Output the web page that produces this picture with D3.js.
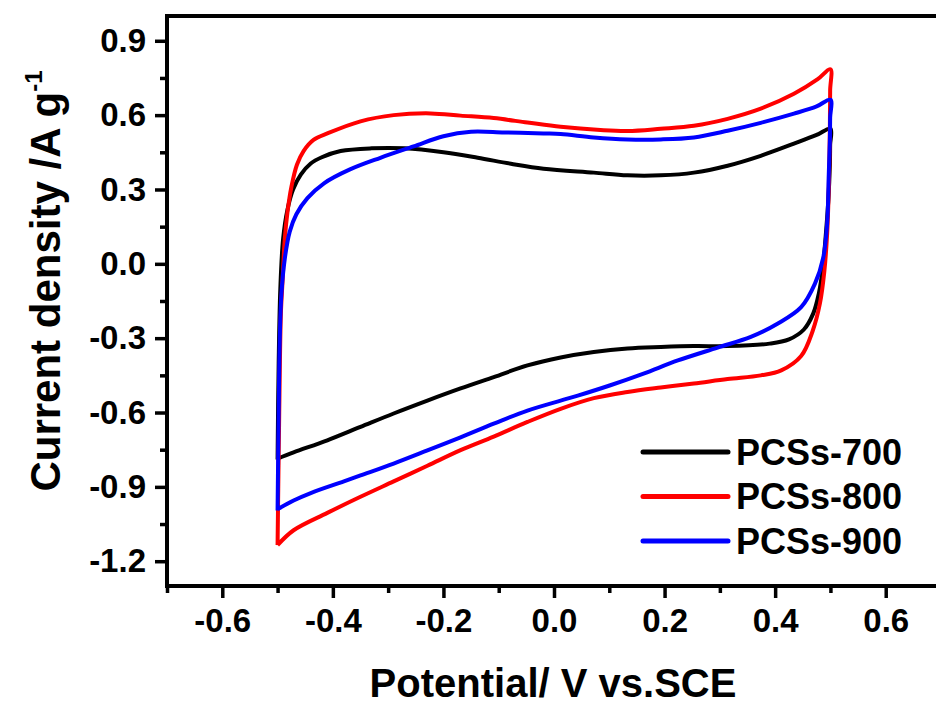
<!DOCTYPE html>
<html>
<head>
<meta charset="utf-8">
<script src="https://cdn.jsdelivr.net/npm/d3@7"></script>
<style>
  body { margin: 0; background: #fff; }
  text { font-family: "Liberation Sans", Arial, sans-serif; font-weight: bold; fill: #000; }
</style>
</head>
<body>
<div id="chart"></div>
<script>
// series names and colours
var seriesNames = ["PCSs-700", "PCSs-800", "PCSs-900"];
var seriesColors = ["#000000", "#ff0000", "#0000ff"];

// CV loops: [potential V, current density A/g]
// anodic sweep -0.5 -> 0.5 then cathodic sweep 0.5 -> -0.5
var pcs700 = [
  [-0.500, -0.79], [-0.498, -0.40], [-0.495, -0.10], [-0.490, 0.10], [-0.482, 0.22],
  [-0.472, 0.30], [-0.458, 0.36], [-0.440, 0.405], [-0.420, 0.43], [-0.386, 0.455],
  [-0.330, 0.466], [-0.270, 0.466], [-0.200, 0.450], [-0.138, 0.428], [-0.078, 0.404],
  [-0.019, 0.384], [0.072, 0.368], [0.133, 0.357], [0.193, 0.357], [0.253, 0.368],
  [0.314, 0.396], [0.374, 0.436], [0.434, 0.485], [0.475, 0.52], [0.500, 0.545],
  [0.4995, 0.48], [0.499, 0.40], [0.496, 0.25], [0.491, 0.10], [0.486, -0.02], [0.479, -0.12],
  [0.469, -0.20], [0.452, -0.265], [0.425, -0.305], [0.390, -0.322], [0.314, -0.332],
  [0.253, -0.332], [0.193, -0.336], [0.133, -0.342], [0.072, -0.356], [0.012, -0.378],
  [-0.048, -0.41], [-0.109, -0.457], [-0.169, -0.503], [-0.229, -0.552], [-0.290, -0.604],
  [-0.350, -0.658], [-0.410, -0.712], [-0.471, -0.761], [-0.500, -0.786]
];
var pcs800 = [
  [-0.500, -1.135], [-0.497, -0.60], [-0.494, -0.20], [-0.491, -0.07], [-0.487, 0.10],
  [-0.482, 0.21], [-0.475, 0.31], [-0.465, 0.40], [-0.453, 0.455], [-0.435, 0.50],
  [-0.409, 0.527], [-0.350, 0.575], [-0.290, 0.600], [-0.223, 0.607], [-0.169, 0.598],
  [-0.109, 0.588], [-0.048, 0.570], [0.012, 0.553], [0.084, 0.540], [0.133, 0.536],
  [0.193, 0.545], [0.253, 0.557], [0.314, 0.585], [0.374, 0.626], [0.434, 0.686],
  [0.477, 0.745], [0.500, 0.785],
  [0.4995, 0.70], [0.499, 0.55], [0.497, 0.30], [0.494, 0.12], [0.489, -0.03], [0.481, -0.16],
  [0.468, -0.27], [0.447, -0.372], [0.411, -0.430], [0.374, -0.450], [0.314, -0.465],
  [0.253, -0.483], [0.193, -0.499], [0.133, -0.517], [0.072, -0.542], [0.012, -0.585],
  [-0.048, -0.638], [-0.109, -0.697], [-0.169, -0.752], [-0.229, -0.815], [-0.290, -0.878],
  [-0.350, -0.94], [-0.410, -1.005], [-0.471, -1.075], [-0.500, -1.135]
];
var pcs900 = [
  [-0.500, -0.995], [-0.498, -0.60], [-0.496, -0.30], [-0.493, -0.12], [-0.487, 0.02],
  [-0.478, 0.13], [-0.466, 0.20], [-0.446, 0.265], [-0.416, 0.325], [-0.370, 0.38],
  [-0.314, 0.428], [-0.254, 0.474], [-0.200, 0.515], [-0.150, 0.533], [-0.090, 0.530],
  [-0.019, 0.526], [0.012, 0.524], [0.072, 0.510], [0.133, 0.502], [0.193, 0.502],
  [0.253, 0.510], [0.314, 0.537], [0.374, 0.569], [0.434, 0.606], [0.475, 0.635],
  [0.500, 0.662],
  [0.4995, 0.59], [0.499, 0.50], [0.497, 0.36], [0.494, 0.16], [0.487, 0.025], [0.472, -0.08],
  [0.447, -0.175], [0.405, -0.241], [0.356, -0.295], [0.296, -0.338], [0.224, -0.39],
  [0.162, -0.443], [0.102, -0.49], [0.043, -0.532], [-0.048, -0.592], [-0.109, -0.645],
  [-0.169, -0.700], [-0.229, -0.753], [-0.290, -0.806], [-0.350, -0.854], [-0.380, -0.878],
  [-0.440, -0.925], [-0.471, -0.955], [-0.500, -0.99]
];
var seriesData = [pcs700, pcs800, pcs900];

// tick values
var xMajor = [-0.6, -0.4, -0.2, 0.0, 0.2, 0.4, 0.6];
var xMinor = [-0.7, -0.5, -0.3, -0.1, 0.1, 0.3, 0.5, 0.7];
var yMajor = [0.9, 0.6, 0.3, 0.0, -0.3, -0.6, -0.9, -1.2];
var yMinor = [0.75, 0.45, 0.15, -0.15, -0.45, -0.75, -1.05];

var width = 936, height = 704;
var plotLeft = 167, plotRight = 941, plotTop = 16, plotBottom = 586;

var svg = d3.select("#chart").append("svg")
  .attr("width", width)
  .attr("height", height);

var x = d3.scaleLinear().domain([-0.7, 0.7]).range([plotLeft, plotRight]);
var y = d3.scaleLinear().domain([-1.3, 1.0]).range([plotBottom, plotTop]);

// curves first, frame drawn over them
var line = d3.line()
  .x(function(d) { return x(d[0]); })
  .y(function(d) { return y(d[1]); })
  .curve(d3.curveCatmullRom.alpha(0.5));

svg.append("g")
  .selectAll("path")
  .data(seriesData)
  .enter()
  .append("path")
  .attr("d", line)
  .attr("fill", "none")
  .attr("stroke", function(d, i) { return seriesColors[i]; })
  .attr("stroke-width", 4)
  .attr("stroke-linejoin", "round");

var fmt = function(d) { return d3.format(".1f")(d).replace("−", "-"); };

// bottom axis
var gx = svg.append("g").attr("transform", "translate(0," + plotBottom + ")")
  .call(d3.axisBottom(x).tickValues(xMajor).tickSize(12).tickPadding(11).tickFormat(fmt));
var gxMinor = svg.append("g").attr("transform", "translate(0," + plotBottom + ")")
  .call(d3.axisBottom(x).tickValues(xMinor).tickSize(7).tickFormat(""));

// left axis
var gy = svg.append("g").attr("transform", "translate(" + plotLeft + ",0)")
  .call(d3.axisLeft(y).tickValues(yMajor).tickSize(12).tickPadding(9).tickFormat(fmt));
var gyMinor = svg.append("g").attr("transform", "translate(" + plotLeft + ",0)")
  .call(d3.axisLeft(y).tickValues(yMinor).tickSize(7).tickFormat(""));

svg.selectAll(".tick line").attr("stroke-width", 3.5);
svg.selectAll(".domain").remove();
gxMinor.selectAll(".tick text").remove();
gyMinor.selectAll(".tick text").remove();
[gx, gy].forEach(function(g) {
  g.selectAll(".tick text")
    .style("font-size", "33px")
    .style("font-family", "'Liberation Sans', Arial, sans-serif")
    .style("font-weight", "bold");
});

// frame
svg.append("rect")
  .attr("x", plotLeft).attr("y", plotTop)
  .attr("width", plotRight - plotLeft).attr("height", plotBottom - plotTop)
  .attr("fill", "none")
  .attr("stroke", "#000")
  .attr("stroke-width", 4);

// axis titles
svg.append("text")
  .attr("x", 553)
  .attr("y", 697)
  .attr("text-anchor", "middle")
  .style("font-size", "40px")
  .text("Potential/ V vs.SCE");

var yt = svg.append("text")
  .attr("transform", "translate(60,281) rotate(-90)")
  .attr("text-anchor", "middle")
  .style("font-size", "42px");
yt.append("tspan").text("Current density /A g");
yt.append("tspan").attr("dy", -18).style("font-size", "24px").text("-1");

// legend
var legend = svg.append("g")
  .selectAll("g")
  .data(seriesNames)
  .enter()
  .append("g")
  .attr("transform", function(d, i) { return "translate(643," + (452 + i * 44.5) + ")"; });

legend.append("line")
  .attr("x1", 0).attr("x2", 85)
  .attr("stroke", function(d, i) { return seriesColors[i]; })
  .attr("stroke-width", 5)
  .attr("stroke-linecap", "round");

legend.append("text")
  .attr("x", 93)
  .attr("dy", "0.36em")
  .style("font-size", "36px")
  .text(function(d) { return d; });
</script>
</body>
</html>
